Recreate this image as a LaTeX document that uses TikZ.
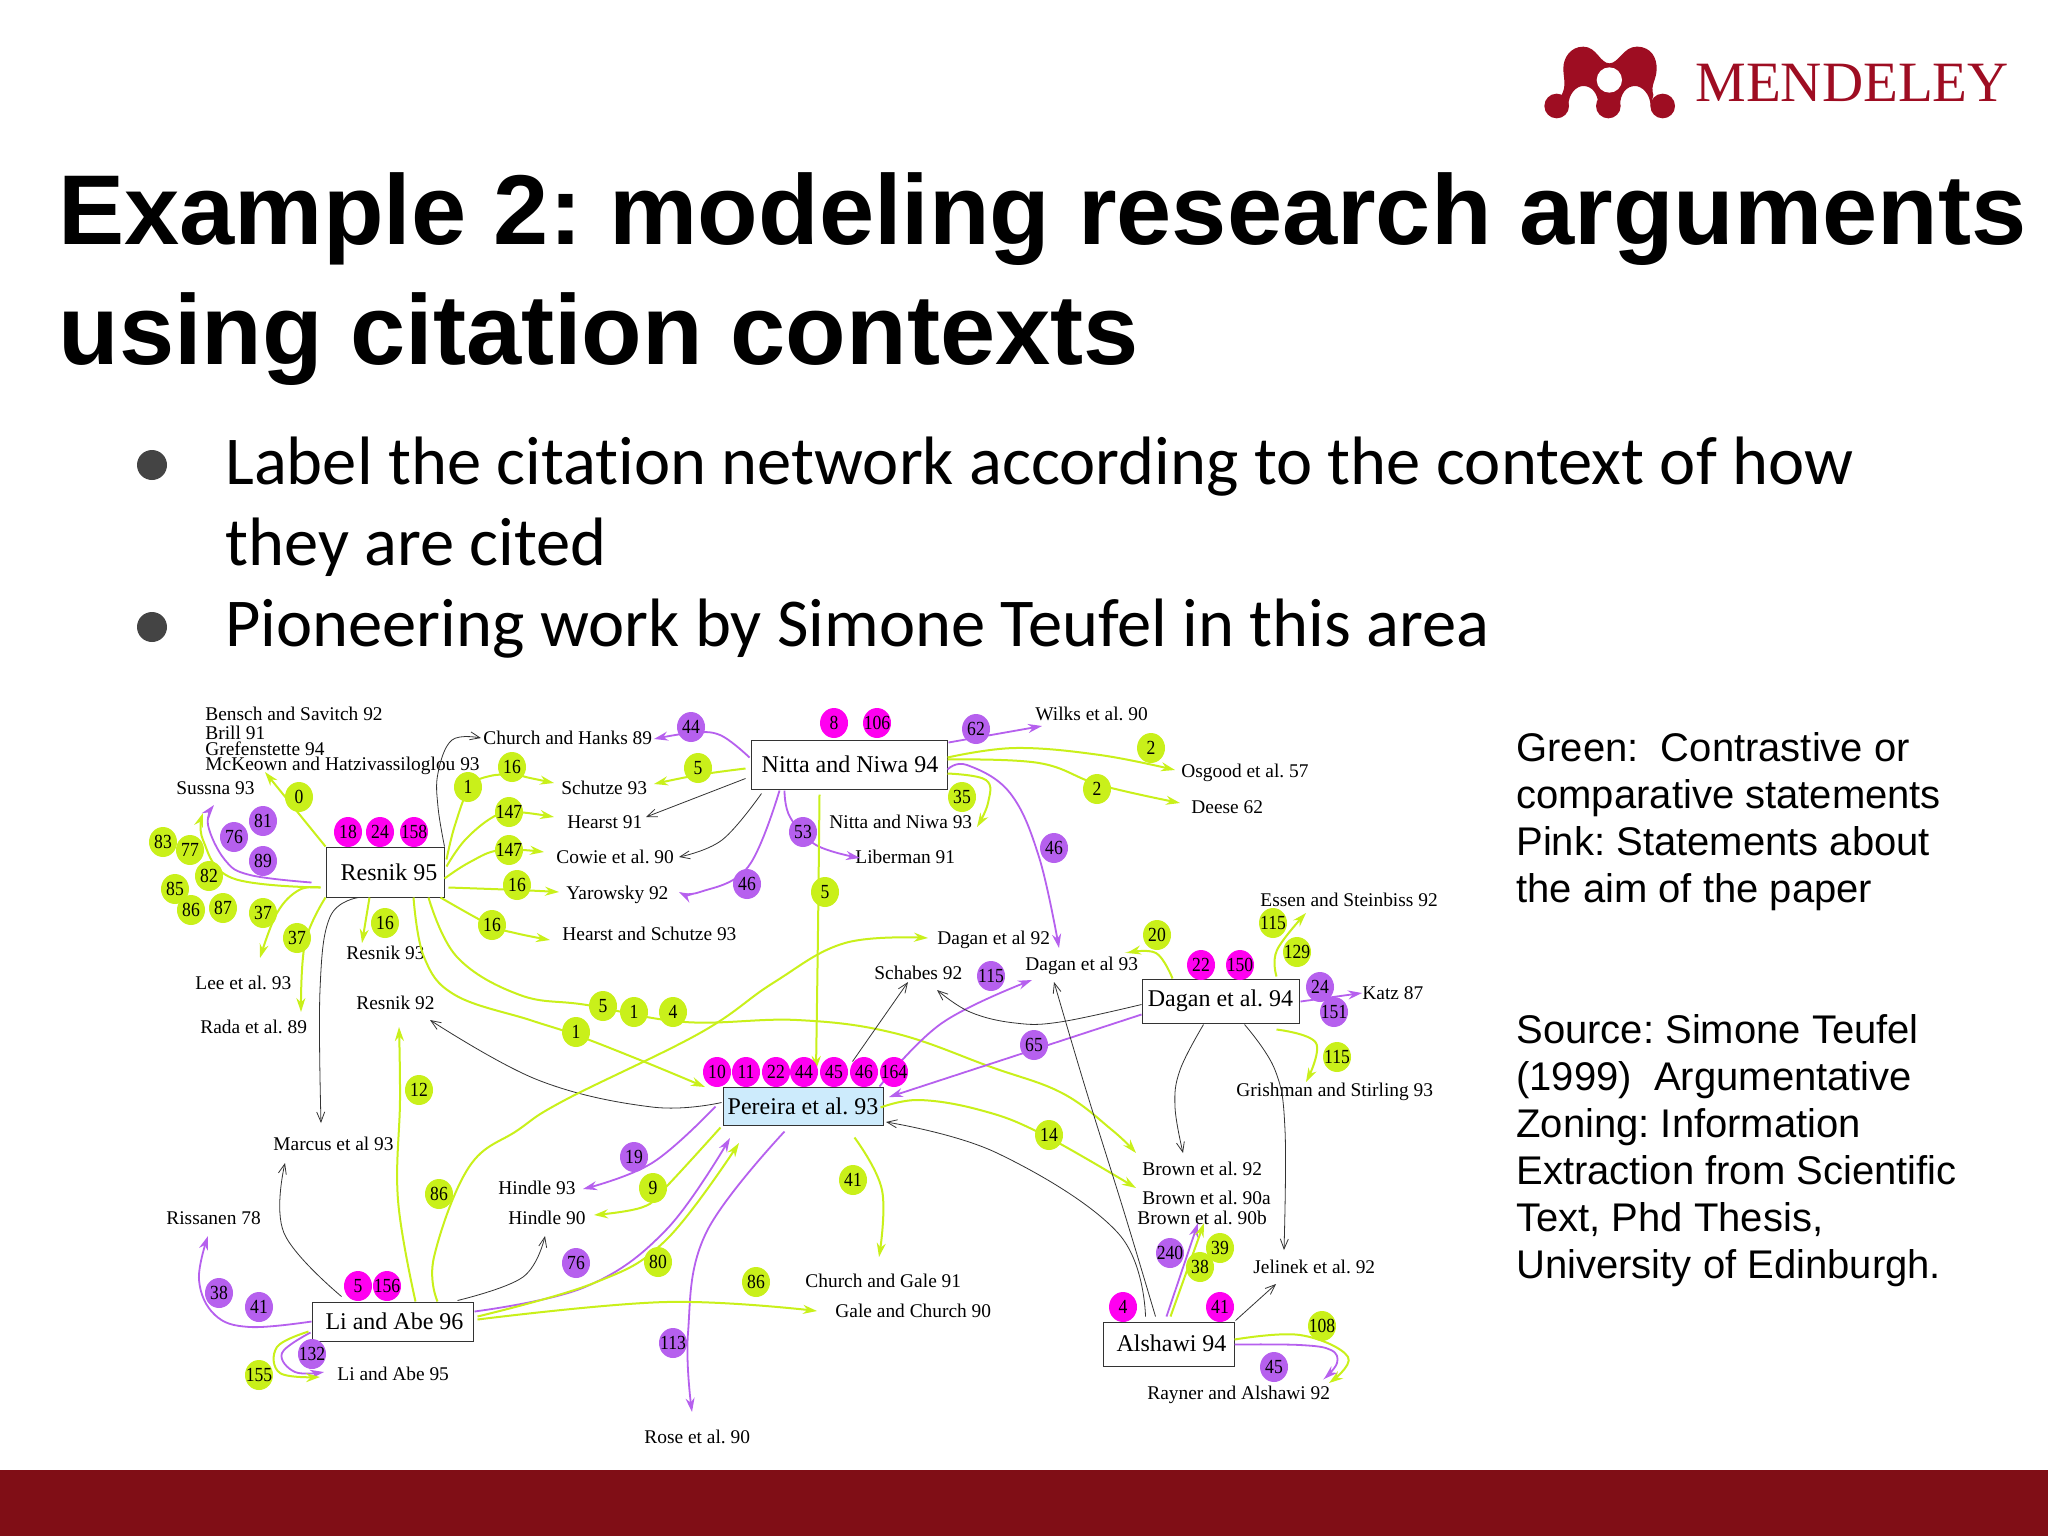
\documentclass[tikz,border=0pt]{standalone}
\usepackage{fontspec}
\usepackage{graphicx}
\usetikzlibrary{arrows.meta,calc,shapes.geometric}
\setmainfont{Liberation Serif}
\newfontfamily\headfont{Liberation Sans}
\newfontfamily\bodyfont[Ligatures=NoCommon]{Carlito}
\newfontfamily\logofont{Liberation Serif}
\definecolor{lime}{HTML}{C9F01A}
\definecolor{violet}{HTML}{B660EE}
\definecolor{pinkdot}{HTML}{FF00F0}
\definecolor{paleblue}{HTML}{CDEBFC}
\definecolor{brand}{HTML}{9E0D22}
\definecolor{barred}{HTML}{800E16}
\definecolor{bulletgrey}{HTML}{444444}
\tikzset{
  titletext/.style={anchor=base west,inner sep=0,font=\headfont\bfseries\fontsize{49.6}{55}\selectfont},
  bullettext/.style={anchor=base west,inner sep=0,font=\bodyfont\fontsize{34.25}{40}\selectfont},
  sidetext/.style={anchor=north west,inner sep=0,align=left,font=\headfont\fontsize{20}{23.5}\selectfont},
  lab/.style={anchor=west,inner sep=0,font=\fontsize{9.7}{11}\selectfont},
  papbox/.style={draw=black!80,line width=.5pt,fill=white,inner sep=0,font=\fontsize{12}{13}\selectfont},
  dot/.style={ellipse,inner sep=0,minimum width=14pt,minimum height=15pt,font=\fontsize{10}{11}\selectfont},
  gdot/.style={dot,fill=lime},
  vdot/.style={dot,fill=violet},
  mdot/.style={dot,fill=pinkdot},
  gar/.style={draw=lime,line width=1pt,-{Stealth[length=7pt,width=4.5pt]}},
  par/.style={draw=violet,line width=.9pt,-{Stealth[length=7pt,width=4.5pt]}},
  bar/.style={draw=black!80,line width=.4pt,-{Straight Barb[length=5pt,width=4pt]}},
}
% connector: style, start, middle points, end position, end name
\newcommand\Cn[5]{\coordinate (#5) at (#4);\draw[#1] plot[smooth,tension=.65] coordinates {#2 #3 (#5)};}
\newcommand\Lb[4]{\node[lab] (#1) at (#2,#3) {#4};}
\newcommand\Dt[5]{\node[#1] (#2) at (#3,#4) {\makebox[0pt]{\scalebox{.88}[1]{#5}}};}
\begin{document}
\frenchspacing
\begin{tikzpicture}[x=0.5pt,y=-0.5pt]
\useasboundingbox (0,0) rectangle (2048,1536);
\fill[white] (0,0) rectangle (2048,1536);
\fill[barred] (0,1470) rectangle (2048,1536);
% logo
\begin{scope}[shift={(1520,30)},x=0.16667pt,y=-0.16667pt]
\fill[brand] (190,50) .. controls (230,50) and (240,100) .. (268,100) .. controls (296,100) and (310,50) .. (350,50) .. controls (395,50) and (410,85) .. (410,115) .. controls (410,150) and (390,165) .. (400,195) -- (392,228) .. controls (390,190) and (365,168) .. (345,168) .. controls (320,168) and (300,190) .. (300,228) -- (235,228) .. controls (235,190) and (215,168) .. (190,168) .. controls (170,168) and (145,190) .. (145,228) -- (125,195) .. controls (140,165) and (130,145) .. (130,115) .. controls (130,85) and (150,50) .. (190,50) -- cycle;
\fill[brand] (110,228) circle (37);
\fill[brand] (265,228) circle (37);
\fill[brand] (428,228) circle (37);
\fill[white] (268,150) circle (38);
\fill[brand] (245,190) rectangle (287,228);
\end{scope}
\node[anchor=base west,inner sep=0,text=brand,font=\logofont\fontsize{28.5}{32}\selectfont] (logotext) at (1695,102) {MENDELEY};
% header
\node[titletext] (title1) at (58,244) {Example 2: modeling research arguments};
\node[titletext] (title2) at (58,364) {using citation contexts};
\fill[bulletgrey] (152,465) ellipse (15 and 15);
\fill[bulletgrey] (152,627) ellipse (15 and 15);
\node[bullettext] (b1) at (225,484) {Label the citation network according to the context of how};
\node[bullettext] (b1b) at (225,565) {they are cited};
\node[bullettext] (b2) at (225,646) {Pioneering work by Simone Teufel in this area};
\node[sidetext] (side1) at (1516,732) {Green:\ \ Contrastive or\\comparative statements\\Pink: Statements about\\the aim of the paper};
\node[sidetext] (side2) at (1516,1014) {Source: Simone Teufel\\(1999)\ \ Argumentative\\Zoning: Information\\Extraction from Scientific\\Text, Phd Thesis,\\University of Edinburgh.};
% labels
\Lb{bensch}{205}{714}{Bensch and Savitch 92}
\Lb{brill}{205}{733}{Brill 91}
\Lb{grefen}{205}{749}{Grefenstette 94}
\Lb{mckeown}{205}{766}{McKeown and Hatzivassiloglou 93}
\Lb{sussna}{176}{788}{Sussna 93}
\Lb{churchh}{483}{738}{Church and Hanks 89}
\Lb{schutze}{561}{788}{Schutze 93}
\Lb{hearst}{567}{822}{Hearst 91}
\Lb{cowie}{556}{857}{Cowie et al. 90}
\Lb{yarowsky}{566}{895}{Yarowsky 92}
\Lb{hearsts}{562}{934}{Hearst and Schutze 93}
\Lb{resnik93}{346}{953}{Resnik 93}
\Lb{lee}{195}{983}{Lee et al. 93}
\Lb{rada}{200}{1027}{Rada et al. 89}
\Lb{resnik92}{356}{1003}{Resnik 92}
\Lb{wilks}{1035}{714}{Wilks et al. 90}
\Lb{osgood}{1181}{773}{Osgood et al. 57}
\Lb{deese}{1191}{807}{Deese 62}
\Lb{nitta93}{829}{822}{Nitta and Niwa 93}
\Lb{liberman}{855}{857}{Liberman 91}
\Lb{dagan92}{937}{940}{Dagan et al 92}
\Lb{dagan93}{1025}{966}{Dagan et al 93}
\Lb{schabes}{874}{973}{Schabes 92}
\Lb{essen}{1260}{900}{Essen and Steinbiss 92}
\Lb{katz}{1362}{993}{Katz 87}
\Lb{grishman}{1236}{1092}{Grishman and Stirling 93}
\Lb{brown92}{1142}{1169}{Brown et al. 92}
\Lb{brown90a}{1142}{1198}{Brown et al. 90a}
\Lb{brown90b}{1137}{1218}{Brown et al. 90b}
\Lb{churchg}{805}{1281}{Church and Gale 91}
\Lb{gale}{835}{1311}{Gale and Church 90}
\Lb{jelinek}{1253}{1267}{Jelinek et al. 92}
\Lb{rayner}{1147}{1395}{Rayner and Alshawi 92}
\Lb{marcus}{273}{1144}{Marcus et al 93}
\Lb{hindle93}{498}{1188}{Hindle 93}
\Lb{hindle90}{508}{1218}{Hindle 90}
\Lb{rissanen}{166}{1218}{Rissanen 78}
\Lb{liabe95}{337}{1374}{Li and Abe 95}
\Lb{rose}{644}{1437}{Rose et al. 90}
% boxes
\node[papbox,minimum width=59pt,minimum height=25pt] (resnik) at (385,872) {\hspace*{4pt}Resnik 95};
\node[papbox,minimum width=98pt,minimum height=24.5pt] (nitta) at (849,764.5) {\raisebox{-1.5pt}{\hspace*{1pt}Nitta and Niwa 94}};
\node[papbox,minimum width=78.5pt,minimum height=22pt] (dagan) at (1220.5,1001) {\raisebox{-1.5pt}{Dagan et al. 94}};
\node[papbox,fill=paleblue,minimum width=80pt,minimum height=19pt] (pereira) at (803,1106) {Pereira et al. 93};
\node[papbox,minimum width=80.5pt,minimum height=19.5pt] (liabe) at (392.5,1321.5) {\raisebox{-.7pt}{\hspace*{2pt}Li and Abe 96}};
\node[papbox,minimum width=65.5pt,minimum height=22pt] (alshawi) at (1168.5,1344) {\raisebox{.7pt}{\hspace*{3pt}Alshawi 94}};
% connectors from Resnik 95
\Cn{gar}{(resnik.north west)}{}{265,772}{e1}
\Cn{par}{($(resnik.south west)+(-14,-15)$)}{(250,875) (225,860) (208,825)}{214,805}{e2}
\Cn{gar}{($(resnik.south west)+(-5,-10)$)}{(232,878) (203,840)}{203,813}{e3}
\Cn{gar}{($(resnik.south west)+(-5,-10)$)}{(299,890) (277,913)}{260,958}{e4}
\Cn{gar}{(resnik.south west)}{(305,943)}{301,1012}{e5}
\Cn{bar}{($(resnik.south west)+(33,0)$)}{(330,917) (320,990)}{321,1123}{e6}
\Cn{gar}{($(resnik.south west)+(44,0)$)}{}{362,943}{e7}
\Cn{bar}{(resnik.north east)}{(438,807) (438,773) (452,740)}{481,738}{e8}
\Cn{gar}{($(resnik.north east)+(2,13)$)}{(455,825) (470,787) (490,776) (515,775) (530,778)}{554,783}{e9}
\Cn{gar}{($(resnik.north east)+(2,20)$)}{(465,840) (493,817) (515,812)}{554,817}{e10}
\Cn{gar}{($(resnik.south east)+(0,-19)$)}{(470,862) (500,850)}{544,852}{e11}
\Cn{gar}{($(resnik.south east)+(4,-10)$)}{(518,890)}{559,892}{e12}
\Cn{gar}{($(resnik.south east)+(-4,0)$)}{(490,925) (515,933)}{550,940}{e13}
\Cn{gar}{($(resnik.south west)+(103,0)$)}{(457,957) (520,995) (587,1005) (685,1022) (797,1020) (894,1033) (991,1067) (1062,1093) (1112,1130)}{1136,1153}{e14}
\Cn{gar}{($(resnik.south west)+(88,0)$)}{(424,957) (455,995) (530,1020) (576,1035) (640,1060)}{705,1087}{e15}
% connectors to and from Pereira
\Cn{bar}{($(pereira.north west)+(-1,16)$)}{(652,1107) (538,1080)}{430,1020}{e16}
\Cn{par}{($(pereira.north west)+(-7,20)$)}{(652,1163)}{583,1189}{e17}
\Cn{gar}{($(pereira.south west)+(-2,2)$)}{(666,1187) (643,1207)}{594,1215}{e18}
\Cn{par}{($(pereira.south west)+(62,6)$)}{(706,1233) (688,1333)}{692,1412}{e19}
\Cn{gar}{($(pereira.north east)+(-3,21)$)}{(919,1100) (980,1110) (1040,1133)}{1136,1188}{e20}
\Cn{gar}{($(pereira.south east)+(-29,12)$)}{(882,1190)}{879,1257}{e21}
\Cn{bar}{($(pereira.north east)+(-31,-25)$)}{}{908,982}{e22}
\Cn{par}{($(pereira.north east)+(-4,0)$)}{(942,1023)}{1032,980}{e23}
% Li and Abe 96
\Cn{gar}{($(liabe.north west)+(104,0)$)}{(398,1200) (400,1100)}{399,1027}{e24}
\Cn{gar}{($(liabe.north west)+(126,0)$)}{(434,1257) (469,1167) (518,1130) (565,1100) (700,1033) (773,983) (845,943)}{928,938}{e25}
\Cn{bar}{($(liabe.north west)+(30,-5)$)}{(284,1233)}{285,1163}{e26}
\Cn{bar}{($(liabe.north east)+(-16,-1)$)}{(523,1277)}{545,1236}{e27}
\Cn{par}{($(liabe.north west)+(0,20)$)}{(250,1327) (215,1315) (199,1280)}{208,1236}{e28}
\Cn{par}{($(liabe.south west)+(-1,-9)$)}{(282,1353) (295,1372)}{324,1372}{e29}
\Cn{gar}{($(liabe.south west)+(-3,-10)$)}{(277,1347) (280,1373)}{320,1377}{e30}
\Cn{par}{($(liabe.north east)+(1,10)$)}{(585,1287) (666,1230)}{730,1138}{e31}
\Cn{gar}{($(liabe.north east)+(4,15)$)}{(594,1283) (666,1240)}{739,1143}{e32}
\Cn{gar}{($(liabe.north east)+(4,18)$)}{(666,1302)}{817,1311}{e33}
% Nitta and Niwa 94
\Cn{par}{($(nitta.north west)+(-1,18)$)}{(720,735) (691,733)}{654,739}{e34}
\Cn{gar}{($(nitta.north west)+(-5,29)$)}{(698,775)}{654,784}{e35}
\Cn{bar}{($(nitta.north west)+(-5,39)$)}{}{646,817}{e36}
\Cn{bar}{($(nitta.south west)+(11,4)$)}{(722,840)}{679,857}{e37}
\Cn{par}{($(nitta.south west)+(29,1)$)}{(748,867) (700,892)}{679,892}{e38}
\Cn{par}{($(nitta.north east)+(1,3)$)}{}{1042,726}{e39}
\Cn{gar}{($(nitta.north east)+(0,18)$)}{(1015,748) (1100,755)}{1175,770}{e40}
\Cn{gar}{($(nitta.north east)+(0,20)$)}{(1039,763) (1100,785)}{1180,803}{e41}
\Cn{par}{($(nitta.north east)+(0,30)$)}{(967,765) (1010,793) (1039,857)}{1059,948}{e42}
\Cn{gar}{($(nitta.north east)+(0,34)$)}{(986,780) (988,803)}{977,827}{e43}
\Cn{par}{($(nitta.south west)+(34,1)$)}{(790,817) (816,845)}{860,858}{e44}
\Cn{gar}{($(nitta.south west)+(69,5)$)}{(818,930)}{816,1070}{e45}
% Dagan et al. 94
\Cn{gar}{($(dagan.north west)+(31,0)$)}{(1156,953)}{1127,953}{e46}
\Cn{gar}{($(dagan.north west)+(135,-2)$)}{(1277,950)}{1306,913}{e47}
\Cn{par}{($(dagan.north east)+(1,23)$)}{}{1362,993}{e48}
\Cn{gar}{($(dagan.south east)+(-23,6)$)}{(1316,1043)}{1306,1082}{e49}
\Cn{bar}{($(dagan.north west)+(0,26)$)}{(1060,1022) (1015,1023) (970,1012)}{937,990}{e50}
\Cn{par}{($(dagan.north west)+(0,36)$)}{}{889,1097}{e51}
\Cn{bar}{($(dagan.south west)+(62,1)$)}{(1180,1070) (1175,1107)}{1183,1153}{e52}
\Cn{bar}{($(dagan.south west)+(103,1)$)}{(1275,1070) (1285,1130)}{1284,1250}{e53}
% Alshawi 94
\Cn{bar}{($(alshawi.north west)+(53,-5)$)}{(1125,1215) (1086,1090)}{1054,982}{e54}
\Cn{bar}{($(alshawi.north west)+(43,-5)$)}{(1118,1233) (997,1153)}{886,1122}{e55}
\Cn{par}{($(alshawi.north west)+(64,-5)$)}{}{1198,1223}{e56}
\Cn{gar}{($(alshawi.north west)+(68,-5)$)}{}{1204,1223}{e57}
\Cn{bar}{($(alshawi.north east)+(1,-1)$)}{}{1276,1284}{e58}
\Cn{gar}{($(alshawi.north east)+(0,18)$)}{(1300,1335) (1348,1357)}{1329,1383}{e59}
\Cn{par}{($(alshawi.north east)+(0,23)$)}{(1300,1345) (1331,1350) (1337,1363)}{1324,1379}{e60}
% count dots
\Dt{gdot}{d0}{299}{797}{0}
\Dt{mdot}{d18}{348}{832}{18}
\Dt{mdot}{d24}{380}{832}{24}
\Dt{mdot}{d158}{414}{832}{158}
\Dt{vdot}{d81}{263}{821}{81}
\Dt{vdot}{d76}{234}{837}{76}
\Dt{vdot}{d89}{263}{861}{89}
\Dt{gdot}{d83}{163}{842}{83}
\Dt{gdot}{d77}{190}{850}{77}
\Dt{gdot}{d82}{209}{876}{82}
\Dt{gdot}{d85}{175}{889}{85}
\Dt{gdot}{d86}{191}{910}{86}
\Dt{gdot}{d87}{223}{908}{87}
\Dt{gdot}{d37a}{263}{913}{37}
\Dt{gdot}{d37b}{297}{938}{37}
\Dt{gdot}{d16a}{385}{923}{16}
\Dt{gdot}{d1a}{468}{787}{1}
\Dt{gdot}{d16b}{512}{767}{16}
\Dt{gdot}{d147a}{509}{812}{147}
\Dt{gdot}{d147b}{509}{850}{147}
\Dt{gdot}{d16c}{517}{885}{16}
\Dt{gdot}{d16d}{492}{925}{16}
\Dt{gdot}{d5a}{603}{1006}{5}
\Dt{gdot}{d1b}{634}{1012}{1}
\Dt{gdot}{d4a}{673}{1012}{4}
\Dt{gdot}{d1c}{576}{1032}{1}
\Dt{gdot}{d12}{419}{1090}{12}
\Dt{vdot}{d44}{691}{727}{44}
\Dt{gdot}{d5b}{698}{768}{5}
\Dt{vdot}{d46a}{747}{884}{46}
\Dt{mdot}{d8}{834}{723}{8}
\Dt{mdot}{d106}{877}{723}{106}
\Dt{vdot}{d62}{976}{729}{62}
\Dt{gdot}{d2a}{1151}{748}{2}
\Dt{gdot}{d2b}{1097}{789}{2}
\Dt{gdot}{d35}{962}{797}{35}
\Dt{vdot}{d53}{803}{832}{53}
\Dt{vdot}{d46b}{1054}{848}{46}
\Dt{gdot}{d5c}{825}{892}{5}
\Dt{gdot}{d20}{1157}{935}{20}
\Dt{gdot}{d115a}{1273}{923}{115}
\Dt{gdot}{d129}{1297}{952}{129}
\Dt{mdot}{d22a}{1201}{965}{22}
\Dt{mdot}{d150}{1240}{965}{150}
\Dt{vdot}{d115b}{991}{976}{115}
\Dt{vdot}{d24b}{1320}{987}{24}
\Dt{vdot}{d151}{1334}{1012}{151}
\Dt{gdot}{d115c}{1337}{1057}{115}
\Dt{vdot}{d65}{1034}{1045}{65}
\Dt{mdot}{d10}{717}{1072}{10}
\Dt{mdot}{d11}{746}{1072}{11}
\Dt{mdot}{d22b}{776}{1072}{22}
\Dt{mdot}{d44b}{804}{1072}{44}
\Dt{mdot}{d45a}{834}{1072}{45}
\Dt{mdot}{d46c}{864}{1072}{46}
\Dt{mdot}{d164}{894}{1072}{164}
\Dt{gdot}{d14}{1049}{1135}{14}
\Dt{gdot}{d41a}{853}{1180}{41}
\Dt{vdot}{d240}{1170}{1253}{240}
\Dt{gdot}{d39}{1220}{1248}{39}
\Dt{gdot}{d38a}{1200}{1267}{38}
\Dt{mdot}{d4b}{1123}{1307}{4}
\Dt{mdot}{d41b}{1220}{1307}{41}
\Dt{gdot}{d108}{1322}{1326}{108}
\Dt{vdot}{d45b}{1274}{1367}{45}
\Dt{vdot}{d19}{634}{1157}{19}
\Dt{gdot}{d9}{653}{1188}{9}
\Dt{gdot}{d86b}{439}{1194}{86}
\Dt{vdot}{d76b}{576}{1263}{76}
\Dt{gdot}{d80}{658}{1262}{80}
\Dt{gdot}{d86c}{756}{1282}{86}
\Dt{mdot}{d5d}{358}{1286}{5}
\Dt{mdot}{d156}{387}{1286}{156}
\Dt{vdot}{d38b}{219}{1293}{38}
\Dt{vdot}{d41c}{259}{1307}{41}
\Dt{vdot}{d132}{312}{1354}{132}
\Dt{gdot}{d155}{259}{1375}{155}
\Dt{vdot}{d113}{673}{1343}{113}
\end{tikzpicture}
\end{document}
